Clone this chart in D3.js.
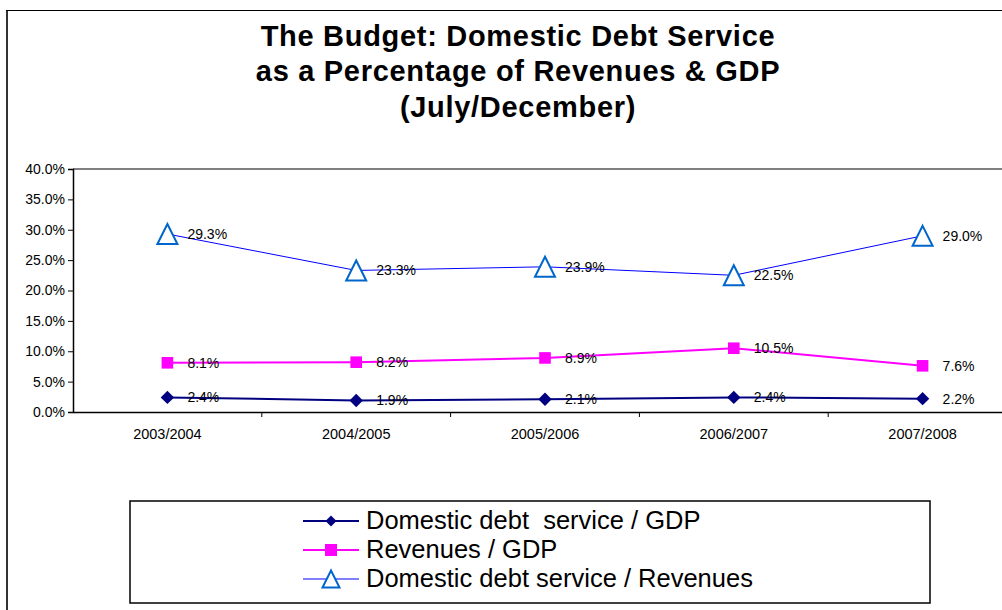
<!DOCTYPE html>
<html>
<head>
<meta charset="utf-8">
<script src="https://cdn.jsdelivr.net/npm/d3@7/dist/d3.min.js"></script>
<style>
  html, body { margin: 0; padding: 0; background: #fff; }
  svg { display: block; }
  text { font-family: Arial, "Liberation Sans", sans-serif; }
  .legend-label { white-space: pre; }
</style>
</head>
<body>
<svg id="chart" width="1002" height="610"></svg>
<script>
// Fiscal years (July/December)
const categories = ["2003/2004", "2004/2005", "2005/2006", "2006/2007", "2007/2008"];

// Series values, in percent
const debtServiceGdp = [2.4, 1.9, 2.1, 2.4, 2.2];
const revenuesGdp = [8.1, 8.2, 8.9, 10.5, 7.6];
const debtServiceRevenues = [29.3, 23.3, 23.9, 22.5, 29.0];

// Y axis tick values, in percent
const yTicks = [0, 5, 10, 15, 20, 25, 30, 35, 40];

const titleLines = [
  "The Budget: Domestic Debt Service",
  "as a Percentage of Revenues & GDP",
  "(July/December)"
];

const seriesNames = [
  "Domestic debt  service / GDP",
  "Revenues / GDP",
  "Domestic debt service / Revenues"
];

const series = [
  { name: seriesNames[0], values: debtServiceGdp, color: "#000080", width: 2, marker: "diamond" },
  { name: seriesNames[1], values: revenuesGdp, color: "#FF00FF", width: 2, marker: "square" },
  { name: seriesNames[2], values: debtServiceRevenues, color: "#0000FF", width: 1, marker: "triangle" }
];

const svg = d3.select("#chart");

// Outer chart frame (left and top edges are visible)
svg.append("line").attr("x1", 7).attr("x2", 7).attr("y1", 10).attr("y2", 610)
  .attr("stroke", "#333").attr("stroke-width", 2);
svg.append("line").attr("x1", 6).attr("x2", 1002).attr("y1", 10.5).attr("y2", 10.5)
  .attr("stroke", "#000").attr("stroke-width", 1);

// Title
const title = svg.append("text")
  .attr("text-anchor", "middle")
  .attr("font-weight", "bold")
  .attr("font-size", 29)
  .attr("letter-spacing", 0.7)
  .attr("fill", "#000");
const titleBaselines = [46, 81, 117];
titleLines.forEach((t, i) => {
  title.append("tspan").attr("x", 518).attr("y", titleBaselines[i]).text(t);
});

// Scales
const plotLeft = 73, plotTop = 169, plotBottom = 412, plotRight = 1017;
const x = d3.scaleBand().domain(categories).range([plotLeft, plotRight]).padding(0);
const y = d3.scaleLinear().domain([0, 40]).range([plotBottom, plotTop]);
const cx = c => x(c) + x.bandwidth() / 2;

// Plot area top edge
svg.append("line").attr("x1", plotLeft).attr("x2", 1002)
  .attr("y1", plotTop).attr("y2", plotTop)
  .attr("stroke", "#808080").attr("stroke-width", 2);

// Y axis
const yAxis = svg.append("g").attr("transform", `translate(${plotLeft},0)`)
  .call(d3.axisLeft(y).tickValues(yTicks).tickSize(5).tickPadding(3)
    .tickFormat(d => d3.format(".1f")(d) + "%"));
yAxis.select(".domain").attr("stroke", "#000").attr("stroke-width", 1.5);
yAxis.selectAll(".tick line").attr("stroke", "#000");
yAxis.selectAll(".tick text").attr("font-size", 14)
  .attr("font-family", "Arial, 'Liberation Sans', sans-serif").attr("fill", "#000");

// X axis: labels centred in each band, tick marks on band boundaries
const xAxis = svg.append("g").attr("transform", `translate(0,${plotBottom})`)
  .call(d3.axisBottom(x).tickSize(0).tickPadding(17));
xAxis.select(".domain").attr("stroke", "#000").attr("stroke-width", 1.5);
xAxis.selectAll(".tick text").attr("font-size", 14.5)
  .attr("font-family", "Arial, 'Liberation Sans', sans-serif").attr("fill", "#000");
xAxis.selectAll(".boundary")
  .data(categories.slice(1))
  .join("line")
  .attr("class", "boundary")
  .attr("x1", d => x(d)).attr("x2", d => x(d))
  .attr("y1", 0).attr("y2", 5)
  .attr("stroke", "#000").attr("stroke-width", 1);

// Marker shapes
function markerPath(type, s) {
  if (type === "diamond") return `M0,${-s}L${s},0L0,${s}L${-s},0Z`;
  if (type === "square") return `M${-s},${-s}H${s}V${s}H${-s}Z`;
  return `M0,${-s}L${s},${s}L${-s},${s}Z`;
}
function drawMarker(g, type, size) {
  if (type === "triangle") {
    g.append("path").attr("d", markerPath(type, size))
      .attr("fill", "#fff").attr("stroke", "#0066CC").attr("stroke-width", 2);
  } else if (type === "diamond") {
    g.append("path").attr("d", markerPath(type, size)).attr("fill", "#000080");
  } else {
    g.append("path").attr("d", markerPath(type, size)).attr("fill", "#FF00FF");
  }
}
const markerSize = { diamond: 6.7, square: 5.8, triangle: 10 };
const legendMarkerSize = { diamond: 5.5, square: 6, triangle: 8.5 };

// Lines, markers and value labels
const line = d3.line().x((d, i) => cx(categories[i])).y(d => y(d));
const plot = svg.append("g");
series.forEach(s => {
  plot.append("path").datum(s.values).attr("d", line)
    .attr("fill", "none").attr("stroke", s.color).attr("stroke-width", s.width);
});
series.forEach(s => {
  s.values.forEach((v, i) => {
    const g = plot.append("g").attr("transform", `translate(${cx(categories[i])},${y(v)})`);
    drawMarker(g, s.marker, markerSize[s.marker]);
  });
});
series.forEach(s => {
  plot.selectAll(null).data(s.values).join("text")
    .attr("x", (d, i) => cx(categories[i]) + 20)
    .attr("y", d => y(d))
    .attr("dy", "0.35em")
    .attr("font-size", 14)
    .attr("fill", "#000")
    .text(d => d3.format(".1f")(d) + "%");
});

// Legend
const legend = svg.append("g");
legend.append("rect").attr("x", 130).attr("y", 501).attr("width", 800).attr("height", 102)
  .attr("fill", "#fff").attr("stroke", "#000").attr("stroke-width", 1.5);
const legendRows = [521, 550, 579];
series.forEach((s, i) => {
  const g = legend.append("g").attr("transform", `translate(0,${legendRows[i]})`);
  g.append("line").attr("x1", 303).attr("x2", 359).attr("y1", 0).attr("y2", 0)
    .attr("stroke", s.color).attr("stroke-width", s.width);
  const m = g.append("g").attr("transform", "translate(331,0)");
  drawMarker(m, s.marker, legendMarkerSize[s.marker]);
  g.append("text").attr("class", "legend-label")
    .attr("x", 366).attr("y", -1).attr("dy", "0.35em")
    .attr("font-size", 25.5).attr("fill", "#000").text(s.name);
});
</script>
</body>
</html>
